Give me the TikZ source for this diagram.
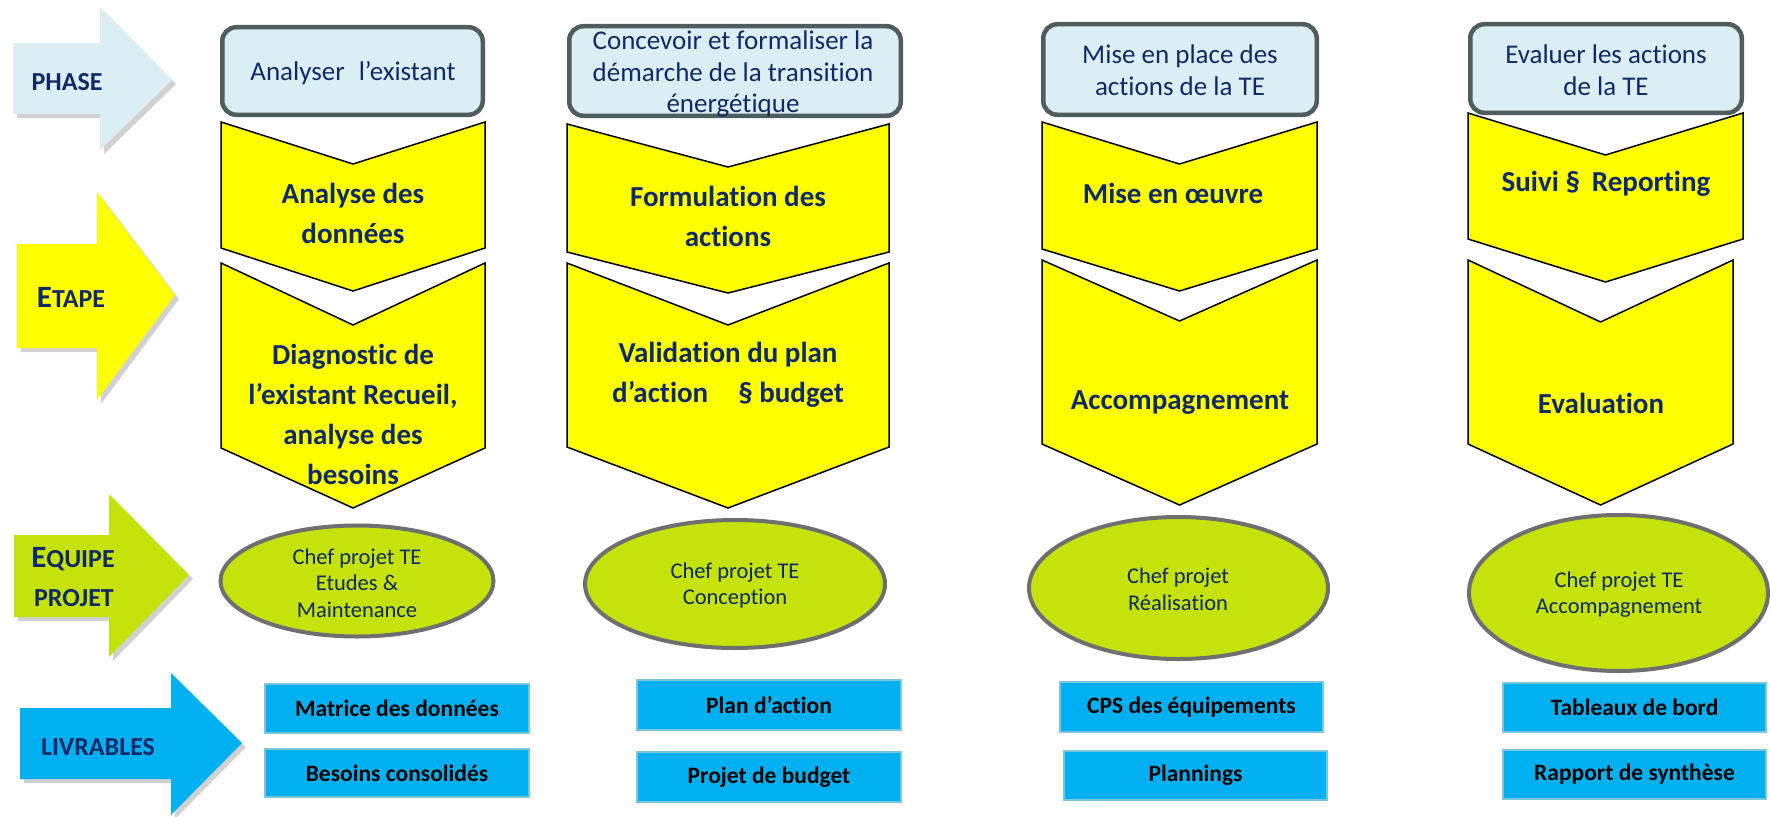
\documentclass[tikz,border=0pt]{standalone}
\usepackage{fontspec}
\setmainfont{Carlito}[Ligatures=NoCommon]
\usetikzlibrary{shapes.geometric,shadows}
\definecolor{navy}{HTML}{0F2A66}
\definecolor{phasefill}{HTML}{DBEEF3}
\definecolor{phaseline}{HTML}{4F5D5E}
\definecolor{yel}{HTML}{FFFF00}
\definecolor{lime}{HTML}{C5E30A}
\definecolor{ellline}{HTML}{6F6F6F}
\definecolor{cyanbox}{HTML}{00B0F0}
\definecolor{cyanline}{HTML}{7CC6DA}
\tikzset{
  lblarrow/.style={drop shadow={shadow xshift=4pt,shadow yshift=-4pt,fill=black,opacity=.18}},
  lbltxt/.style={inner sep=0pt,text=navy,font=\bfseries\fontsize{26}{30}\selectfont,align=left},
  phasebox/.style={draw=phaseline,line width=4.5pt,fill=phasefill,rounded corners=14pt,inner sep=0pt},
  phasetxt/.style={inner sep=0pt,text=navy,align=center,font=\fontsize{27}{31.5}\selectfont},
  chevron/.style={draw=black,line width=1.5pt,fill=yel,line join=miter},
  chevtxt/.style={inner sep=0pt,text=navy,align=center,font=\bfseries\fontsize{29}{40}\selectfont},
  team/.style={ellipse,draw=ellline,line width=4pt,fill=lime,inner sep=0pt},
  teamtxt/.style={inner sep=0pt,text=navy,align=center,font=\fontsize{22.5}{26.5}\selectfont},
  livbox/.style={draw=cyanline,line width=2pt,fill=cyanbox,inner sep=0pt},
  livtxt/.style={inner sep=0pt,text=black,font=\bfseries\fontsize{23.5}{28}\selectfont}
}
\newcommand{\chevshape}[6]{%
  \path[chevron] (#1,#3) -- ({(#1+#2)/2},#4) -- (#2,#3) -- (#2,#5) -- ({(#1+#2)/2},#6) -- (#1,#5) -- cycle;}
\begin{document}
\begin{tikzpicture}[x=1pt,y=-1pt]
\useasboundingbox (0,0) rectangle (1771,816);

% ---- row label arrows
\path[lblarrow,fill=phasefill] (13,43) -- (100,43) -- (100,7) -- (172,80) -- (100,150) -- (100,114) -- (13,114) -- cycle;
\node[lbltxt] (lphase) at (67,82) {PHASE};
\path[lblarrow,fill=yel] (17,244) -- (97,244) -- (97,192) -- (175,295) -- (97,400) -- (97,348) -- (17,348) -- cycle;
\node[lbltxt] (letape) at (71,297) {{\fontsize{31}{31}\selectfont E}TAPE};
\path[lblarrow,fill=lime] (14,535) -- (109,535) -- (109,494) -- (189,575) -- (109,657) -- (109,617) -- (14,617) -- cycle;
\node[lbltxt] (lequipe) at (73,559) {{\fontsize{31}{31}\selectfont E}QUIPE};
\node[lbltxt] (lprojet) at (74,598) {PROJET};
\path[lblarrow,fill=cyanbox] (20,708) -- (171,708) -- (171,673) -- (242,743) -- (171,815) -- (171,779) -- (20,779) -- cycle;
\node[lbltxt] (lliv) at (98,747) {LIVRABLES};

% ---- chevrons
\chevshape{221}{485}{122}{164}{248}{291}
\chevshape{221}{485}{263}{325}{448}{508}
\chevshape{567}{889}{124}{167}{252}{293}
\chevshape{567}{889}{263}{325}{447}{508}
\chevshape{1042}{1317}{122}{164}{249}{291}
\chevshape{1042}{1317}{260}{321}{444}{505}
\chevshape{1468}{1743}{113}{155}{239}{282}
\chevshape{1468}{1733}{260}{322}{444}{505}

\node[chevtxt] (s1a) at (353,213) {Analyse des\\données};
\node[chevtxt] (s1b) at (353,414) {Diagnostic de\\l’existant Recueil,\\analyse des\\besoins};
\node[chevtxt] (s2a) at (728,216) {Formulation des\\actions};
\node[chevtxt] (s2b) at (728,375) {Validation du plan\\d’action\hspace{30pt}§ budget};
\node[chevtxt] (s3a) at (1173,193) {Mise en œuvre};
\node[chevtxt] (s3b) at (1180,403) {Accompagnement};
\node[chevtxt] (s4a) at (1606,184) {Suivi §\hspace{12pt}Reporting};
\node[chevtxt] (s4b) at (1601,403) {Evaluation};

% ---- phase boxes
\node[phasebox,minimum width=260.5pt,minimum height=87.5pt] (p1) at (352.5,71) {};
\node[phasebox,minimum width=331.5pt,minimum height=89.5pt] (p2) at (735,71) {};
\node[phasebox,minimum width=273.5pt,minimum height=90.5pt] (p3) at (1180,69.5) {};
\node[phasebox,minimum width=271.5pt,minimum height=88.5pt] (p4) at (1606,68.5) {};
\node[phasetxt] (p1t) at (353,73) {Analyser\hspace{14pt}l’existant};
\node[phasetxt] (p2t) at (733,74) {Concevoir et formaliser la\\démarche de la transition\\énergétique};
\node[phasetxt] (p3t) at (1180,70) {Mise en place des\\actions de la TE};
\node[phasetxt] (p4t) at (1606,70) {Evaluer les actions\\de la TE};

% ---- team ellipses
\node[team,minimum width=273pt,minimum height=111pt] (e1) at (357,581) {};
\node[team,minimum width=300pt,minimum height=128pt] (e2) at (735,584) {};
\node[team,minimum width=299pt,minimum height=142pt] (e3) at (1178.5,588) {};
\node[team,minimum width=299pt,minimum height=156pt] (e4) at (1618.5,593) {};
\node[teamtxt] (e1t) at (357,583) {Chef projet TE\\Etudes \&\\Maintenance};
\node[teamtxt] (e2t) at (735,585.5) {Chef projet TE\\Conception};
\node[teamtxt] (e3t) at (1178,589.5) {Chef projet\\Réalisation};
\node[teamtxt] (e4t) at (1619,594.5) {Chef projet TE\\Accompagnement};

% ---- deliverables
\node[livbox,minimum width=264pt,minimum height=49pt] (d1a) at (397,708.5) {};
\node[livtxt] at (d1a) {Matrice des données};
\node[livbox,minimum width=264pt,minimum height=48pt] (d1b) at (397,773) {};
\node[livtxt] at (d1b) {Besoins consolidés};
\node[livbox,minimum width=264pt,minimum height=50pt] (d2a) at (769,705) {};
\node[livtxt] at (d2a) {Plan d’action};
\node[livbox,minimum width=264pt,minimum height=50pt] (d2b) at (769,777) {};
\node[livtxt] at (d2b) {Projet de budget};
\node[livbox,minimum width=263pt,minimum height=50pt] (d3a) at (1191.5,707) {};
\node[livtxt] at (d3a) {CPS des équipements};
\node[livbox,minimum width=263pt,minimum height=49pt] (d3b) at (1195.5,775.5) {};
\node[livtxt] at (d3b) {Plannings};
\node[livbox,minimum width=263pt,minimum height=49pt] (d4a) at (1634.5,707.5) {};
\node[livtxt] at (d4a) {Tableaux de bord};
\node[livbox,minimum width=263pt,minimum height=49pt] (d4b) at (1634.5,774.5) {};
\node[livtxt] at (d4b) {Rapport de synthèse};
\end{tikzpicture}
\end{document}
